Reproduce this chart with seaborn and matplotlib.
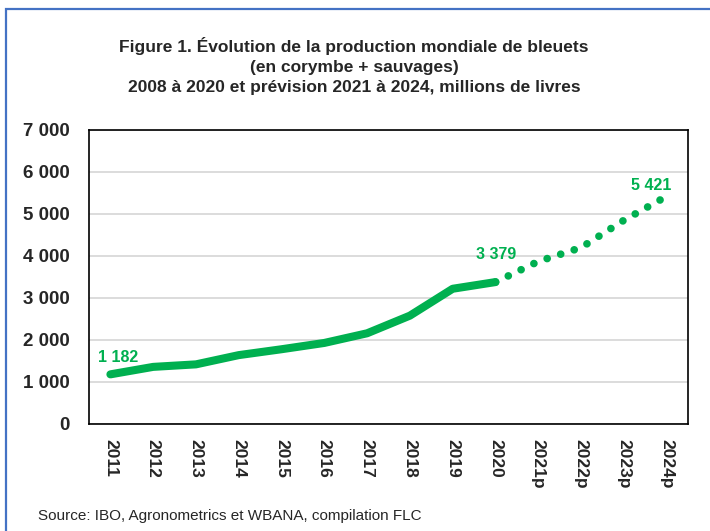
import numpy as np
import pandas as pd
import matplotlib.pyplot as plt
import matplotlib.patches as patches
import seaborn as sns

# data
years = ['2011', '2012', '2013', '2014', '2015', '2016', '2017',
         '2018', '2019', '2020', '2021p', '2022p', '2023p', '2024p']
production = [1182, 1360, 1420, 1640, 1780, 1930, 2160, 2580, 3220, 3379]
forecast = [3379, 3870, 4200, 4850, 5421]
yticks = [0, 1000, 2000, 3000, 4000, 5000, 6000, 7000]

green = '#00B050'

sns.set_style('white')
plt.rcParams['font.family'] = ['Liberation Sans Narrow', 'Liberation Sans', 'DejaVu Sans']

fig = plt.figure(figsize=(7.1, 5.31), dpi=100)
ax = fig.add_axes([89 / 710, 1 - 424 / 531, (688 - 89) / 710, (424 - 130) / 531])

df_hist = pd.DataFrame({'pos': np.arange(len(production)), 'val': production})
df_fc = pd.DataFrame({'pos': np.arange(len(production) - 1, len(years)), 'val': forecast})

sns.lineplot(data=df_hist, x='pos', y='val', color=green, linewidth=5.8,
             solid_capstyle='round', solid_joinstyle='round', ax=ax)
sns.lineplot(data=df_fc, x='pos', y='val', color=green, linewidth=5.5,
             linestyle=(0, (0.01, 1.85)), dash_capstyle='round', ax=ax)

ax.set_xlim(-0.5, len(years) - 0.5)
ax.set_ylim(0, 7000)
ax.set_xticks(np.arange(len(years)))
ax.set_xticklabels(years, rotation=270, fontweight='bold', fontsize=12.5,
                   ha='center', va='top')
ax.set_yticks(yticks)
ax.set_yticklabels([f'{v:,}'.replace(',', ' ') for v in yticks],
                   fontweight='bold', fontsize=13.5)
ax.tick_params(axis='both', length=0)
ax.tick_params(axis='y', pad=14)
ax.tick_params(axis='x', pad=11)
ax.set_xlabel('')
ax.set_ylabel('')

ax.yaxis.grid(True, color='#D9D9D9', linewidth=1.3)
ax.xaxis.grid(False)
for sp in ax.spines.values():
    sp.set_color('black')
    sp.set_linewidth(1.2)

# data labels
lab_kw = dict(textcoords='offset pixels', color=green, fontweight='bold',
              fontsize=11.5, ha='center', va='center')
ax.annotate('1 182', (0, production[0]), xytext=(8, 17), **lab_kw)
ax.annotate('3 379', (9, production[-1]), xytext=(1, 28), **lab_kw)
ax.annotate('5 421', (13, forecast[-1]), xytext=(-15, 11), **lab_kw)

fig.text(354 / 710, 1 - 66 / 531,
         'Figure 1. Évolution de la production mondiale de bleuets\n'
         '(en corymbe + sauvages)\n'
         '2008 à 2020 et prévision 2021 à 2024, millions de livres',
         ha='center', va='center', fontsize=12.5, fontweight='bold',
         linespacing=1.45)
fig.text(38 / 710, 1 - 516 / 531,
         'Source: IBO, Agronometrics et WBANA, compilation FLC',
         ha='left', va='center', fontsize=11)

# outer frame of the figure
frame = patches.Rectangle((6 / 710, -0.05), 1.0, 1.05 - 9 / 531,
                          transform=fig.transFigure, fill=False,
                          edgecolor='#4472C4', linewidth=1.6, clip_on=False)
fig.patches.append(frame)

fig.savefig('out.png', dpi=100)
